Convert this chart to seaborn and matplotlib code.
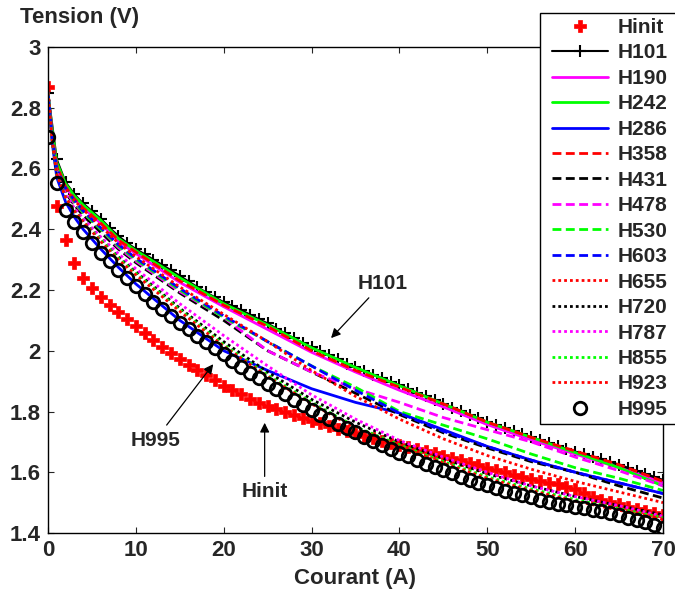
import matplotlib
matplotlib.use("Agg")
import matplotlib.pyplot as plt
import matplotlib.patches as mpatches
import seaborn as sns

# ---------------- data ----------------
current_A = list(range(0, 71))
current_line = [0, 0.5, 1, 2, 3, 4, 6, 8, 10, 15, 20, 25, 30, 35, 40, 45, 50, 55, 60, 65, 70]

hinit = [2.868, 2.475, 2.365, 2.29, 2.24, 2.205, 2.178, 2.152, 2.128, 2.103,
         2.08, 2.058, 2.035, 2.013, 1.993, 1.972, 1.954, 1.937, 1.92, 1.903,
         1.884, 1.87, 1.856, 1.842, 1.829, 1.818, 1.807, 1.797, 1.788, 1.779,
         1.77, 1.761, 1.752, 1.744, 1.736, 1.728, 1.72, 1.712, 1.704, 1.697,
         1.69, 1.683, 1.676, 1.669, 1.662, 1.655, 1.647, 1.64, 1.632, 1.624,
         1.614, 1.607, 1.6, 1.591, 1.583, 1.577, 1.571, 1.566, 1.56, 1.553,
         1.545, 1.531, 1.52, 1.51, 1.502, 1.494, 1.486, 1.479, 1.472, 1.465,
         1.459]

h101 = [2.85, 2.63, 2.555, 2.515, 2.485, 2.46, 2.435, 2.405, 2.378, 2.355,
        2.335, 2.318, 2.30, 2.283, 2.265, 2.247, 2.228, 2.21, 2.192, 2.176,
        2.16, 2.147, 2.134, 2.119, 2.104, 2.09, 2.073, 2.057, 2.041, 2.026,
        2.012, 1.999, 1.985, 1.972, 1.958, 1.945, 1.933, 1.921, 1.91, 1.898,
        1.887, 1.875, 1.862, 1.85, 1.837, 1.825, 1.813, 1.801, 1.789, 1.777,
        1.765, 1.755, 1.745, 1.735, 1.725, 1.715, 1.706, 1.696, 1.687, 1.677,
        1.668, 1.66, 1.651, 1.642, 1.634, 1.625, 1.615, 1.605, 1.595, 1.585,
        1.575]

h995 = [2.705, 2.552, 2.463, 2.424, 2.39, 2.355, 2.323, 2.295, 2.266, 2.24,
        2.212, 2.186, 2.16, 2.136, 2.113, 2.091, 2.07, 2.049, 2.028, 2.008,
        1.988, 1.966, 1.946, 1.927, 1.909, 1.891, 1.874, 1.856, 1.838, 1.821,
        1.805, 1.79, 1.775, 1.76, 1.745, 1.731, 1.717, 1.703, 1.69, 1.677,
        1.665, 1.652, 1.64, 1.628, 1.617, 1.606, 1.596, 1.586, 1.576, 1.566,
        1.557, 1.548, 1.539, 1.531, 1.524, 1.517, 1.51, 1.503, 1.497, 1.492,
        1.487, 1.482, 1.477, 1.471, 1.465, 1.458, 1.45, 1.443, 1.435, 1.426,
        1.417]

h190 = [2.85, 2.71, 2.61, 2.54, 2.50, 2.47, 2.42, 2.36, 2.32, 2.225, 2.145,
        2.07, 1.995, 1.93, 1.87, 1.815, 1.757, 1.707, 1.66, 1.615, 1.565]
h242 = [2.85, 2.72, 2.62, 2.55, 2.51, 2.48, 2.43, 2.37, 2.33, 2.24, 2.155,
        2.085, 2.01, 1.945, 1.885, 1.825, 1.765, 1.715, 1.665, 1.615, 1.555]
h286 = [2.85, 2.68, 2.57, 2.49, 2.44, 2.40, 2.335, 2.275, 2.22, 2.10, 2.00,
        1.935, 1.875, 1.83, 1.795, 1.74, 1.685, 1.64, 1.60, 1.565, 1.53]
h358 = [2.85, 2.71, 2.61, 2.54, 2.50, 2.47, 2.42, 2.365, 2.325, 2.23, 2.15,
        2.08, 2.0, 1.935, 1.88, 1.825, 1.765, 1.715, 1.67, 1.625, 1.57]
h431 = [2.85, 2.69, 2.59, 2.52, 2.48, 2.445, 2.39, 2.335, 2.29, 2.19, 2.10,
        2.00, 1.93, 1.86, 1.79, 1.73, 1.68, 1.635, 1.60, 1.555, 1.515]
h478 = [2.85, 2.70, 2.60, 2.525, 2.485, 2.455, 2.40, 2.34, 2.295, 2.195, 2.11,
        2.0, 1.93, 1.875, 1.83, 1.78, 1.74, 1.70, 1.65, 1.605, 1.555]
h530 = [2.85, 2.70, 2.60, 2.53, 2.49, 2.455, 2.40, 2.345, 2.30, 2.20, 2.11,
        2.03, 1.95, 1.88, 1.80, 1.755, 1.71, 1.66, 1.615, 1.58, 1.54]
h603 = [2.85, 2.70, 2.60, 2.535, 2.495, 2.46, 2.405, 2.35, 2.305, 2.205, 2.115,
        2.03, 1.95, 1.87, 1.795, 1.735, 1.685, 1.64, 1.60, 1.565, 1.53]
h655 = [2.85, 2.70, 2.605, 2.535, 2.495, 2.465, 2.41, 2.355, 2.31, 2.21, 2.12,
        2.03, 1.935, 1.85, 1.775, 1.71, 1.655, 1.61, 1.57, 1.535, 1.50]
h720 = [2.85, 2.69, 2.585, 2.51, 2.465, 2.43, 2.37, 2.31, 2.26, 2.14, 2.03,
        1.93, 1.84, 1.765, 1.70, 1.645, 1.595, 1.555, 1.52, 1.49, 1.46]
h787 = [2.85, 2.69, 2.59, 2.515, 2.47, 2.435, 2.375, 2.32, 2.27, 2.155, 2.05,
        1.95, 1.855, 1.775, 1.705, 1.65, 1.60, 1.555, 1.52, 1.49, 1.455]
h855 = [2.85, 2.685, 2.58, 2.505, 2.46, 2.425, 2.365, 2.305, 2.255, 2.135, 2.02,
        1.92, 1.83, 1.75, 1.69, 1.635, 1.585, 1.545, 1.51, 1.48, 1.45]
h923 = [2.85, 2.685, 2.58, 2.505, 2.46, 2.425, 2.36, 2.30, 2.25, 2.13, 2.015,
        1.915, 1.825, 1.745, 1.685, 1.63, 1.58, 1.54, 1.505, 1.475, 1.445]

x_ticks = [0, 10, 20, 30, 40, 50, 60, 70]
y_ticks = [1.4, 1.6, 1.8, 2.0, 2.2, 2.4, 2.6, 2.8, 3.0]
y_tick_labels = ["1.4", "1.6", "1.8", "2", "2.2", "2.4", "2.6", "2.8", "3"]

# ---------------- style ----------------
sns.set_style("ticks")
plt.rcParams["font.family"] = ["Liberation Sans", "DejaVu Sans"]
plt.rcParams["font.weight"] = "bold"
plt.rcParams["axes.labelweight"] = "bold"

fig = plt.figure(figsize=(6.75, 5.9), dpi=100)
ax = fig.add_axes([48 / 675, 1 - 533 / 590, (663 - 48) / 675, (533 - 47) / 590])

DASH = (0, (3.2, 1.6))
DOT = (0, (1, 1.1))
LW = 2.0

# Hinit markers
sns.lineplot(x=current_A, y=hinit, ax=ax, color="red", linestyle="none",
             marker="P", markersize=9, mec="red", mew=0.5, label="Hinit")
# H101 line with + markers
sns.lineplot(x=current_A, y=h101, ax=ax, color="black", linewidth=1.5,
             marker="+", markersize=9, mec="black", mew=1.5, label="H101")

line_series = [
    ("H190", h190, "#ff00ff", "-"),
    ("H242", h242, "#00ff00", "-"),
    ("H286", h286, "#0000ff", "-"),
    ("H358", h358, "#ff0000", DASH),
    ("H431", h431, "#000000", DASH),
    ("H478", h478, "#ff00ff", DASH),
    ("H530", h530, "#00ff00", DASH),
    ("H603", h603, "#0000ff", DASH),
    ("H655", h655, "#ff0000", DOT),
    ("H720", h720, "#000000", DOT),
    ("H787", h787, "#ff00ff", DOT),
    ("H855", h855, "#00ff00", DOT),
    ("H923", h923, "#ff0000", DOT),
]
for name, vals, col, ls in line_series:
    sns.lineplot(x=current_line, y=vals, ax=ax, color=col, linestyle=ls,
                 linewidth=LW, label=name)

sns.lineplot(x=current_A, y=h995, ax=ax, color="black", linestyle="none",
             marker="o", markersize=9, mfc="none", mec="black", mew=2.0,
             label="H995")

# ---------------- axes ----------------
ax.set_xlim(0, 70)
ax.set_ylim(1.4, 3.0)
ax.set_xticks(x_ticks)
ax.set_xticklabels([str(v) for v in x_ticks])
ax.set_yticks(y_ticks)
ax.set_yticklabels(y_tick_labels)
ax.tick_params(direction="in", length=4, width=0.8, labelsize=16,
               top=True, right=True, pad=5)
for lab in ax.get_xticklabels() + ax.get_yticklabels():
    lab.set_fontweight("bold")
for sp in ax.spines.values():
    sp.set_visible(True)
    sp.set_linewidth(1.0)
    sp.set_color("black")

ax.set_xlabel("Courant (A)", fontsize=16, fontweight="bold", labelpad=5)
ax.set_ylabel("")
fig.text(20 / 675, 1 - 18 / 590, "Tension (V)", fontsize=16, fontweight="bold",
         ha="left", va="center")

# annotations
arrow = dict(arrowstyle="-|>", color="black", lw=0.9, mutation_scale=14)
ax.annotate("H101", xy=(32.0, 2.035), xytext=(38.1, 2.223), fontsize=15,
            fontweight="bold", ha="center", va="center", arrowprops=arrow)
ax.annotate("H995", xy=(19.0, 1.963), xytext=(12.2, 1.706), fontsize=15,
            fontweight="bold", ha="center", va="center", arrowprops=arrow)
ax.annotate("Hinit", xy=(24.66, 1.772), xytext=(24.66, 1.535), fontsize=15,
            fontweight="bold", ha="center", va="center", arrowprops=arrow)

# legend box (frame drawn separately so horizontal/vertical padding can differ)
box = mpatches.Rectangle((540 / 675, 1 - 424 / 590), (682 - 540) / 675,
                         (424 - 13) / 590, transform=fig.transFigure,
                         facecolor="white", edgecolor="black", linewidth=1.0,
                         clip_on=False, zorder=4)
ax.add_patch(box)
leg = ax.legend(loc="upper left", bbox_to_anchor=(552 / 675, 1 - 18 / 590),
                bbox_transform=fig.transFigure, fontsize=15, frameon=False,
                handlelength=2.7, handletextpad=0.45, labelspacing=0.31,
                borderpad=0.0, borderaxespad=0, numpoints=1)
leg.set_zorder(6)
for t in leg.get_texts():
    t.set_fontweight("bold")

fig.savefig("out.png", dpi=100)
